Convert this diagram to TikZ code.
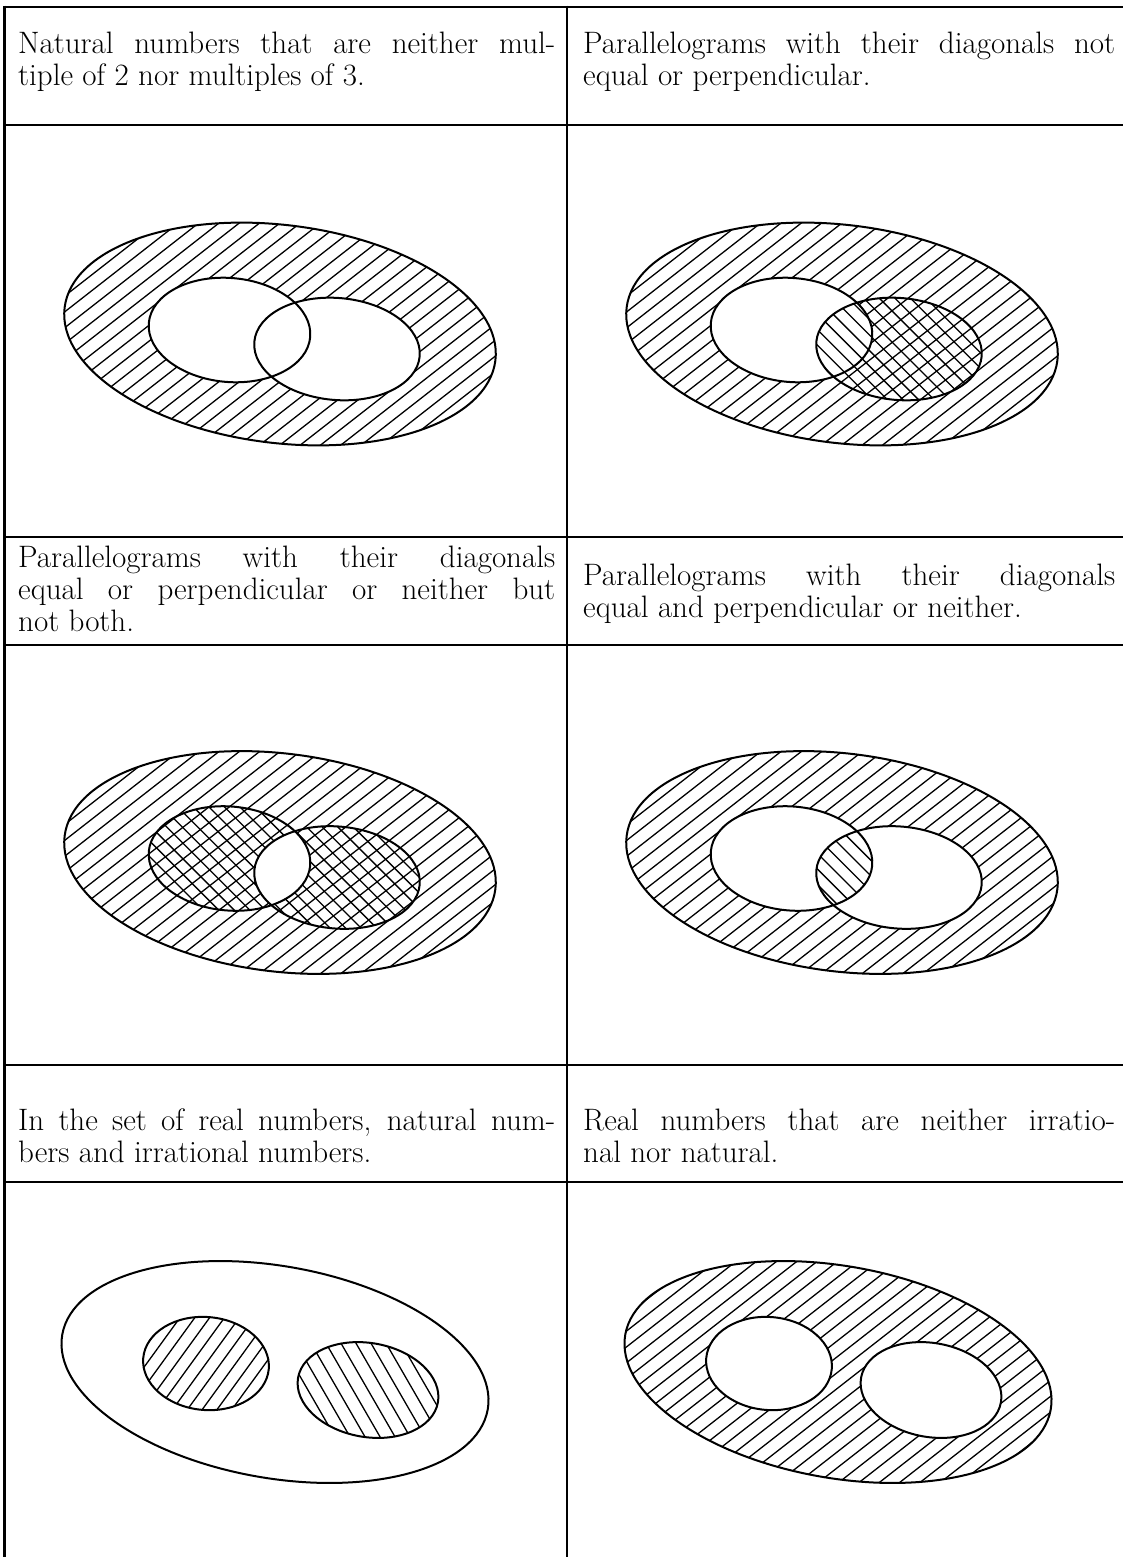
\documentclass[tikz,border=0pt]{standalone}
\tikzset{
 tabrule/.style={line width=2.6pt},
 midrule/.style={line width=1.6pt},
 outl/.style={line width=2pt},
 hl/.style={line width=1.3pt},
 cell/.style={anchor=north west, align=left, inner sep=0pt, font=\fontsize{31}{32}\selectfont},
 pO/.style={insert path={(280,334) ellipse [x radius=217pt, y radius=109pt, rotate=-7]}},
 pA/.style={insert path={(229.5,330) ellipse [x radius=81pt, y radius=52pt, rotate=-5]}},
 pB/.style={insert path={(337,349) ellipse [x radius=83pt, y radius=51pt, rotate=-5]}},
 pQ/.style={insert path={(275,1372) ellipse [x radius=216pt, y radius=106pt, rotate=-10]}},
 pC/.style={insert path={(206,1363.5) ellipse [x radius=63pt, y radius=46.5pt, rotate=-5]}},
 pD/.style={insert path={(368,1390) ellipse [x radius=71pt, y radius=47pt, rotate=-10]}},
}
\newcommand\hatchlines[4]{\begin{scope}[shift={(#1,#2)},rotate=#3]\foreach \k in {-24,...,24}{\draw[hl] (-300,\k*#4) -- (300,\k*#4);}\end{scope}}
\newcommand\fullL[1]{\makebox[537pt][s]{#1}}
\newcommand\fullR[1]{\makebox[532pt][s]{#1}}
\begin{document}
\begin{tikzpicture}[x=1pt,y=-1pt]
\useasboundingbox (0,0) rectangle (1123,1562);
% table rules
\coordinate (tl) at (4.5,5.7);
\coordinate (bl) at (4.5,1557);
\coordinate (tm) at (567,5.7);
\coordinate (bm) at (567,1557);
\draw[tabrule] (tl) -- (bl);
\draw[midrule] (tm) -- (bm);
\foreach \yy in {7,125,537,645,1065,1182}{\draw[tabrule] (3.2,\yy) -- (1123,\yy);}
% texts
\node[cell] (t1) at (18,32) {\fullL{Natural numbers that are neither mul-}\\tiple of 2 nor multiples of 3.};
\node[cell] (t2) at (583,32) {\fullR{Parallelograms with their diagonals not}\\equal or perpendicular.};
\node[cell] (t3) at (18,545.5) {\fullL{Parallelograms with their diagonals}\\\fullL{equal or perpendicular or neither but}\\not both.};
\node[cell] (t4) at (583,563.5) {\fullR{Parallelograms with their diagonals}\\equal and perpendicular or neither.};
\node[cell] (t5) at (18,1108.5) {\fullL{In the set of real numbers, natural num-}\\bers and irrational numbers.};
\node[cell] (t6) at (583,1108.5) {\fullR{Real numbers that are neither irratio-}\\nal nor natural.};
% panel 1
\begin{scope}
 \begin{scope}\clip[pO]; \hatchlines{280}{334}{38}{12.5}\end{scope}
 \fill[white,pA]; \fill[white,pB];
 \draw[outl,pO]; \draw[outl,pA]; \draw[outl,pB];
\end{scope}
% panel 2
\begin{scope}[shift={(562,0)}]
 \begin{scope}\clip[pO]; \hatchlines{280}{334}{38}{12.5}\end{scope}
 \fill[white,pA];
 \begin{scope}\clip[pB]; \hatchlines{337}{349}{-45}{11}\end{scope}
 \draw[outl,pO]; \draw[outl,pA]; \draw[outl,pB];
\end{scope}
% panel 3
\begin{scope}[shift={(0,528.5)}]
 \begin{scope}\clip[pO]; \hatchlines{280}{334}{38}{12.5}\end{scope}
 \begin{scope}\clip[pA]; \hatchlines{280}{334}{-45}{11}\end{scope}
 \begin{scope}\clip[pB]; \hatchlines{280}{334}{-45}{11}\end{scope}
 \begin{scope}\clip[pA]; \fill[white,pB];\end{scope}
 \draw[outl,pO]; \draw[outl,pA]; \draw[outl,pB];
\end{scope}
% panel 4
\begin{scope}[shift={(562,528.5)}]
 \begin{scope}\clip[pO]; \hatchlines{280}{334}{38}{12.5}\end{scope}
 \fill[white,pA]; \fill[white,pB];
 \begin{scope}\clip[pA]; \clip[pB]; \hatchlines{280}{334}{-45}{11}\end{scope}
 \draw[outl,pO]; \draw[outl,pA]; \draw[outl,pB];
\end{scope}
% panel 5
\begin{scope}
 \begin{scope}\clip[pC]; \hatchlines{206}{1363.5}{54}{12}\end{scope}
 \begin{scope}\clip[pD]; \hatchlines{368}{1390}{-60}{13}\end{scope}
 \draw[outl,pQ]; \draw[outl,pC]; \draw[outl,pD];
\end{scope}
% panel 6
\begin{scope}[shift={(563,0)}]
 \begin{scope}\clip[pQ]; \hatchlines{275}{1372}{38}{12.5}\end{scope}
 \fill[white,pC]; \fill[white,pD];
 \draw[outl,pQ]; \draw[outl,pC]; \draw[outl,pD];
\end{scope}
\end{tikzpicture}
\end{document}
